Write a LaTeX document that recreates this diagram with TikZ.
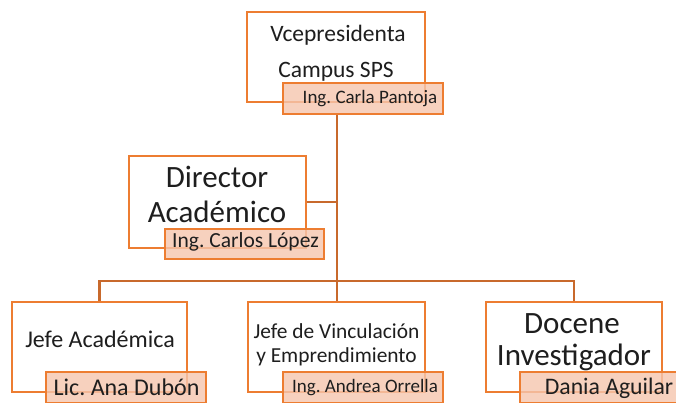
\documentclass[tikz,border=0pt]{standalone}
\usepackage{fontspec}
\setmainfont{Carlito}
\usetikzlibrary{backgrounds}
\definecolor{boxor}{HTML}{ED7D31}
\definecolor{connor}{HTML}{C8692C}
\definecolor{namefill}{HTML}{F5C6AE}
\definecolor{txt}{HTML}{1E1E1E}
\tikzset{
  mainbox/.style={draw=boxor, line width=2.4pt, fill=white, inner sep=0pt},
  namebox/.style={draw=boxor, line width=2.4pt, fill=namefill, fill opacity=0.8, inner sep=0pt},
  conn/.style={draw=connor, line width=2.6pt},
  lbl/.style={anchor=base, inner sep=0pt, text=txt},
}
\newcommand{\fs}[1]{\fontsize{#1}{#1}\selectfont}
\frenchspacing
\begin{document}
\begin{tikzpicture}[x=1pt,y=-1pt]
\useasboundingbox (0,0) rectangle (676,402);
\clip (0,0) rectangle (676,402);
% top
\node[mainbox, minimum width=178pt, minimum height=90pt] (vp) at (336,57) {};
\node[namebox, minimum width=160pt, minimum height=31pt] (vpn) at (363,98.5) {};
\node[lbl, font=\fs{23.5}] (vpt1) at (338,41) {Vcepresidenta};
\node[lbl, font=\fs{23.5}] (vpt2) at (336,77) {Campus SPS};
\node[lbl, font=\fs{19}] (vpnt) at (370,103) {Ing. Carla Pantoja};
% director
\node[mainbox, minimum width=177pt, minimum height=92pt] (dir) at (217.5,202) {};
\node[namebox, minimum width=159pt, minimum height=30pt] (dirn) at (244.5,244) {};
\node[lbl, font=\fs{31}] (dirt1) at (217,187) {Director};
\node[lbl, font=\fs{31}] (dirt2) at (217,222) {Académico};
\node[lbl, font=\fs{21.5}] (dirnt) at (245.5,247) {Ing. Carlos López};
% bottom left
\node[mainbox, minimum width=175pt, minimum height=90pt] (ja) at (99.5,347) {};
\node[namebox, minimum width=160pt, minimum height=31pt] (jan) at (126,387.5) {};
\node[lbl, font=\fs{24}] (jat) at (100,347) {Jefe Académica};
\node[lbl, font=\fs{24}] (jant) at (126.5,395) {Lic. Ana Dubón};
% bottom middle
\node[mainbox, minimum width=177pt, minimum height=90pt] (jv) at (336.5,347) {};
\node[namebox, minimum width=160pt, minimum height=31pt] (jvn) at (363,387.5) {};
\node[lbl, font=\fs{21.4}] (jvt1) at (336.5,338) {Jefe de Vinculación};
\node[lbl, font=\fs{21.4}] (jvt2) at (336.5,362) {y Emprendimiento};
\node[lbl, font=\fs{19}] (jvnt) at (365,392) {Ing. Andrea Orrella};
% bottom right
\node[mainbox, minimum width=176pt, minimum height=90pt] (di) at (574,347) {};
\node[namebox, minimum width=160pt, minimum height=31pt] (din) at (600,387.5) {};
\node[lbl, font=\fs{31}] (dit1) at (572,333) {Docene};
\node[lbl, font=\fs{31}] (dit2) at (574,365) {Investigador};
\node[lbl, font=\fs{23.7}] (dint) at (609,394) {Dania Aguilar};
% connectors
\coordinate (trunk) at (337,281);
\begin{scope}[on background layer]
\draw[conn] (vpn.south -| trunk) -- (trunk);
\draw[conn] (dir.east) -- (dir.east -| trunk);
\draw[conn] (ja.north) |- (trunk) -| (di.north);
\draw[conn] (jv.north -| trunk) -- (trunk);
\end{scope}
\end{tikzpicture}
\end{document}
